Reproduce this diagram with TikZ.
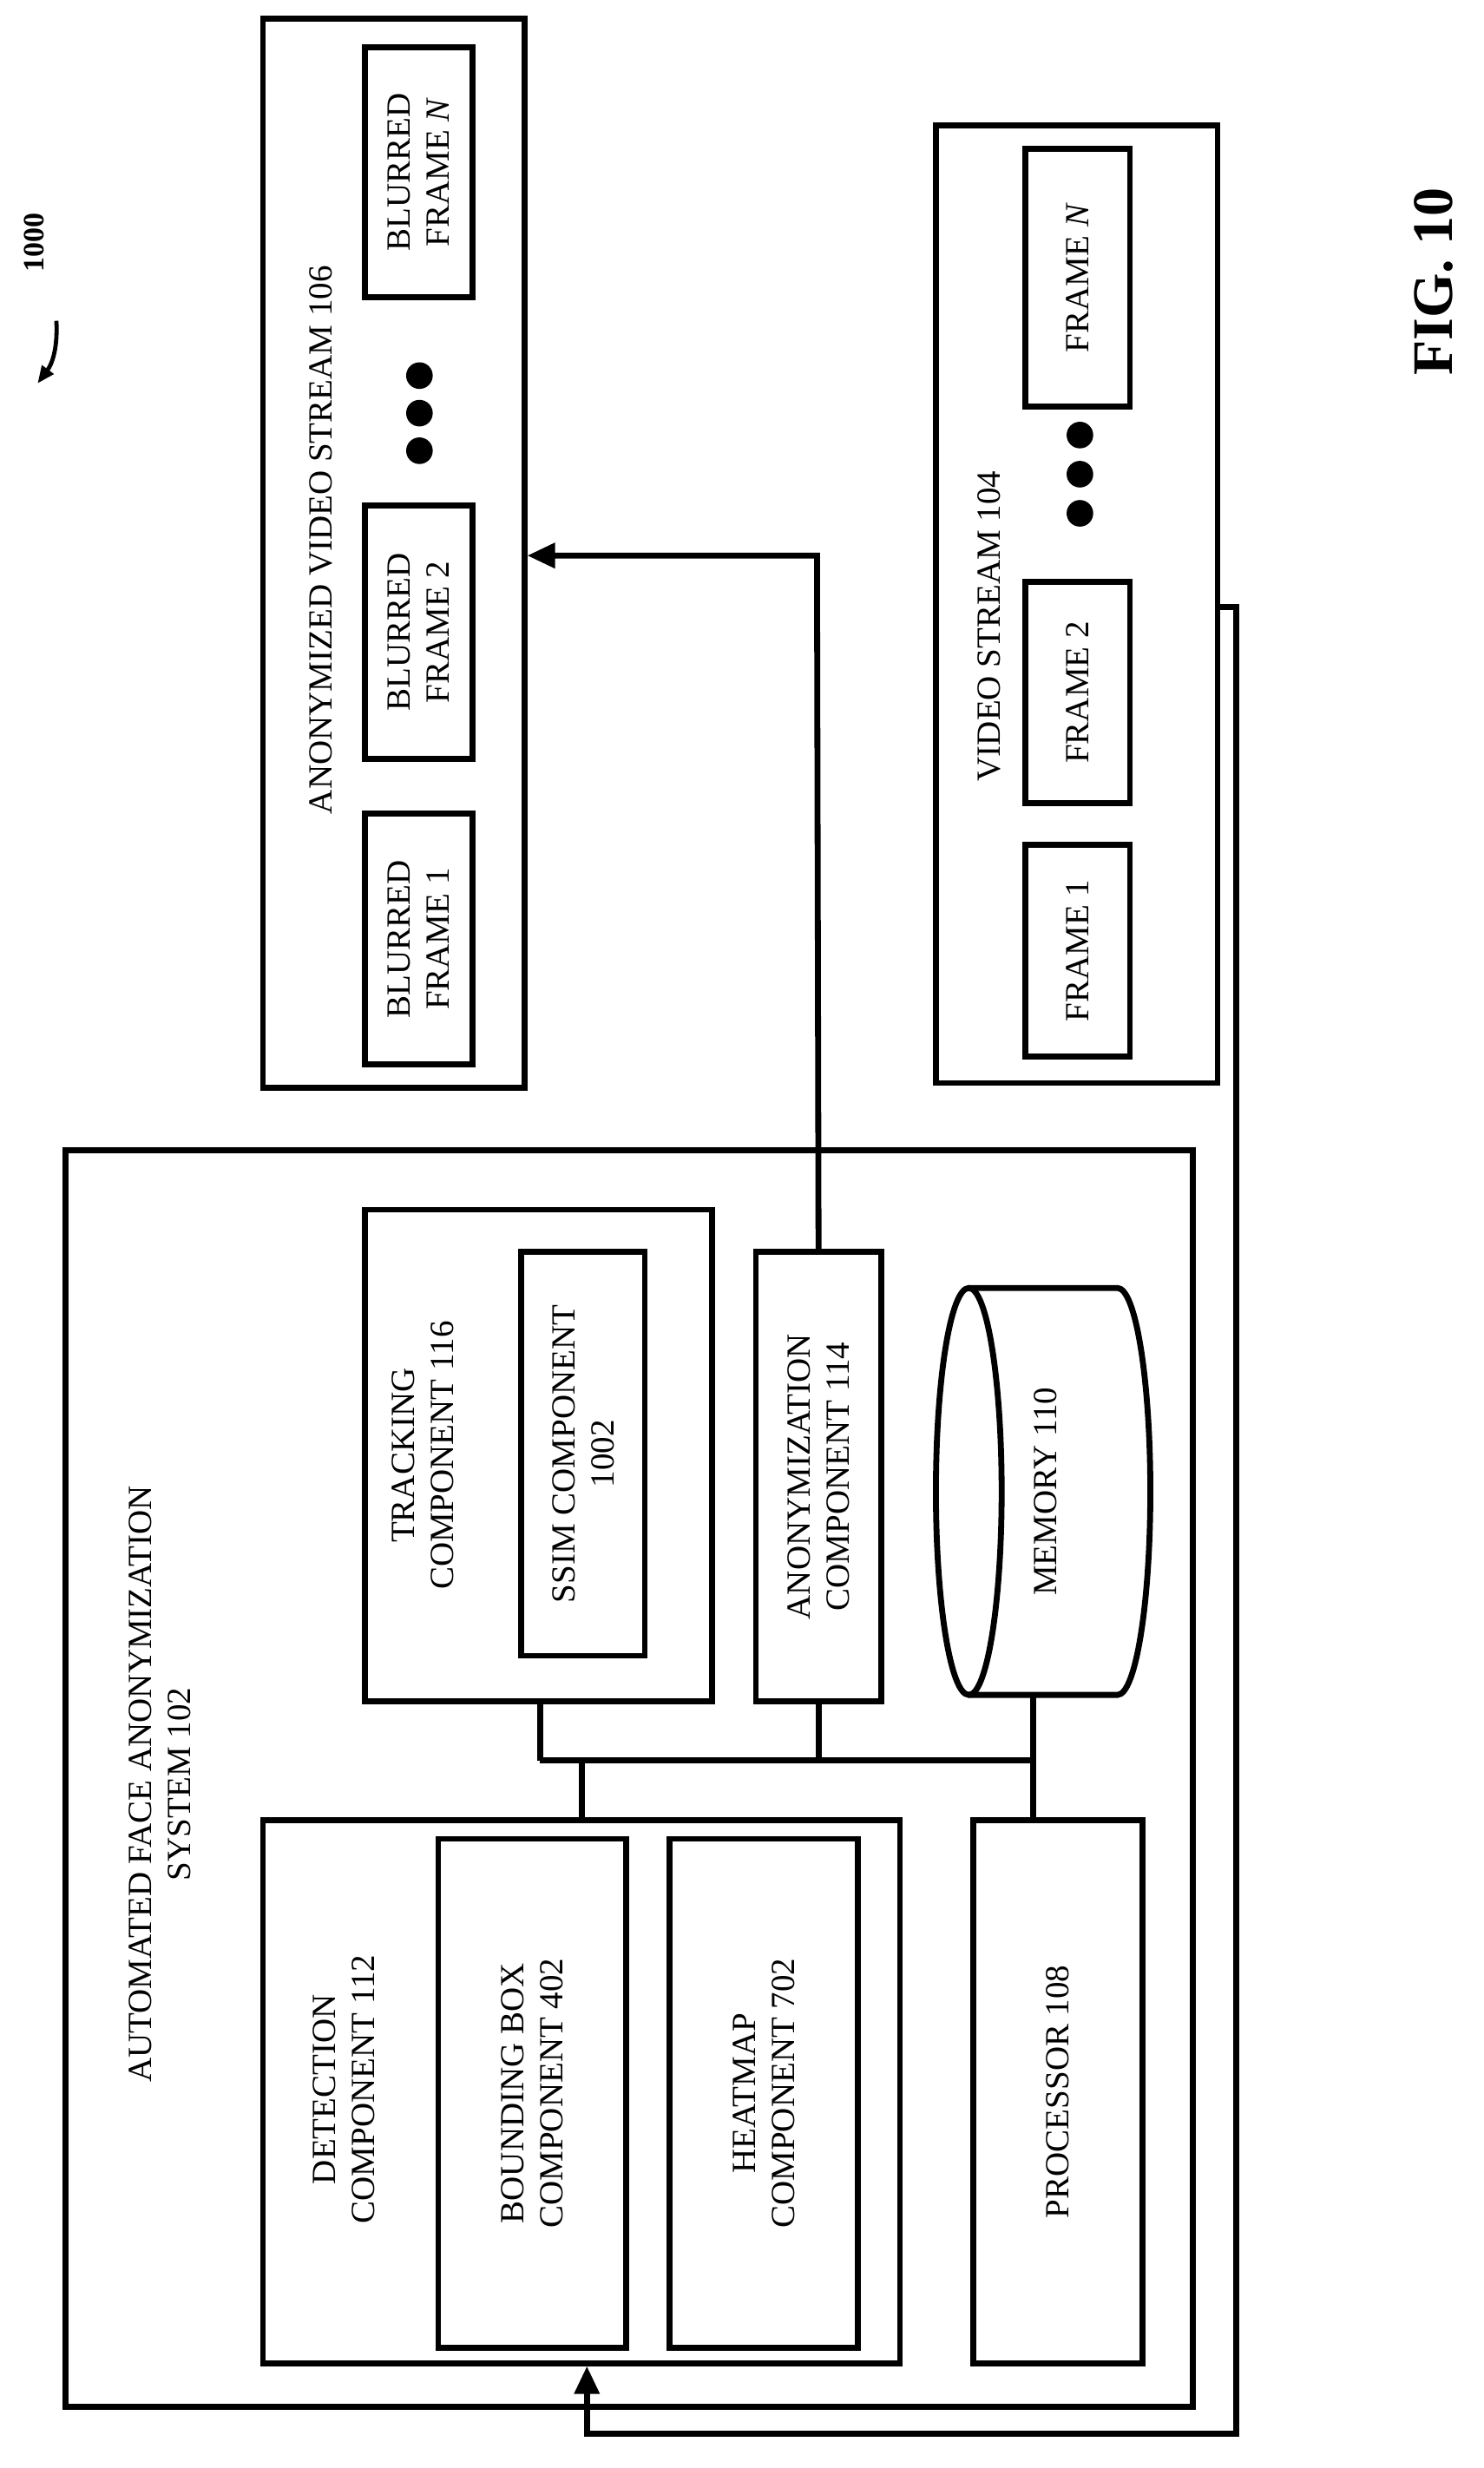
\documentclass[tikz,border=0pt]{standalone}
\usepackage{fontspec}
\setmainfont{Liberation Serif}
\usetikzlibrary{fit,arrows.meta}
\begin{document}
\begin{tikzpicture}[x=0.9015pt,y=-0.9015pt,
 box/.style={draw,line width=3.4pt,inner sep=0pt},
 lbl/.style={rotate=90,align=center,font=\fontsize{19.5}{22.5}\selectfont},
 ln/.style={line width=3.4pt},
 arr/.style={ln,-{Triangle[length=16pt,width=14pt]}}]
\useasboundingbox (0,0) rectangle (948,1577);
% system
\node[box,fit={(42,735)(762,1538)}] (sys) {};
\node[lbl] (syst) at (102,1140) {AUTOMATED FACE ANONYMIZATION\\SYSTEM 102};
\node[box,fit={(168,1163)(575,1510)}] (det) {};
\node[lbl] (dett) at (220,1335) {DETECTION\\COMPONENT 112};
\node[box,fit={(280,1175)(400,1500)}] (bb) {};
\node[lbl] at (bb) {BOUNDING BOX\\COMPONENT 402};
\node[box,fit={(428,1175)(548,1500)}] (hm) {};
\node[lbl] at (hm) {HEATMAP\\COMPONENT 702};
\node[box,fit={(622,1163)(730,1510)}] (proc) {};
\node[lbl] at (proc) {PROCESSOR 108};
\node[box,fit={(233,773)(455,1087)}] (trk) {};
\node[lbl] (trkt) at (270,930) {TRACKING\\COMPONENT 116};
\node[box,fit={(333,800)(412,1058)}] (ssim) {};
\node[lbl] at (ssim) {SSIM COMPONENT\\1002};
\node[box,fit={(483,800)(563,1087)}] (anon) {};
\node[lbl] at (anon) {ANONYMIZATION\\COMPONENT 114};
% memory cylinder
\draw[ln] (619,953) ellipse [x radius=21,y radius=130];
\draw[ln] (619,823) -- (714,823) arc[start angle=-90,end angle=90,x radius=21,y radius=130] -- (619,1083);
\node[lbl] (memt) at (668,953) {MEMORY 110};
% bus
\coordinate (b1) at (345,1125);
\coordinate (b2) at (660,1125);
\draw[ln] (b1) -- (b2);
\draw[ln] (trk.south -| b1) -- (b1);
\draw[ln] (372,1125) -- (det.north -| 372,0);
\draw[ln] (anon.south) -- (anon.south |- b1);
\draw[ln] (660,1083) -- (b2) -- (proc.north -| b2);
% anonymized stream
\node[box,fit={(168,12)(335,695)}] (as) {};
\node[lbl] (ast) at (205,345) {ANONYMIZED VIDEO STREAM 106};
\node[box,fit={(233,520)(302,680)}] (bf1) {};
\node[lbl] at (bf1) {BLURRED\\FRAME 1};
\node[box,fit={(233,323)(302,485)}] (bf2) {};
\node[lbl] at (bf2) {BLURRED\\FRAME 2};
\node[box,fit={(233,30)(302,190)}] (bfn) {};
\node[lbl] at (bfn) {BLURRED\\FRAME \textit{N}};
\foreach \yy in {240,264,288} \fill (268,\yy) circle (8.5);
% video stream
\node[box,fit={(598,80)(778,692)}] (vs) {};
\node[lbl] (vst) at (632,400) {VIDEO STREAM 104};
\node[box,fit={(655,540)(722,675)}] (f1) {};
\node[lbl] at (f1) {FRAME 1};
\node[box,fit={(655,372)(722,513)}] (f2) {};
\node[lbl] at (f2) {FRAME 2};
\node[box,fit={(655,95)(722,260)}] (fn) {};
\node[lbl] at (fn) {FRAME \textit{N}};
\foreach \yy in {278,303,328} \fill (690,\yy) circle (8.5);
% connectors
\coordinate (c1) at (522,355);
\draw[arr] (anon.north) -- (c1) -- (as.east |- c1);
\coordinate (v1) at (790,388);
\coordinate (v2) at (790,1555);
\coordinate (v3) at (375,1555);
\draw[arr] (vs.east |- v1) -- (v1) -- (v2) -- (v3) -- (det.south -| v3);
% ref
\node[rotate=90,font=\bfseries\fontsize{17}{20}\selectfont] (ref) at (22,155) {1000};
\coordinate (r1) at (36,205);
\coordinate (r2) at (24,245);
\draw[line width=2.4pt,-{Triangle[length=10pt,width=8pt]}] (r1) to[bend left=20] (r2);
\node[rotate=90,font=\bfseries\fontsize{33}{36}\selectfont] (fig) at (916,180) {FIG. 10};
\end{tikzpicture}
\end{document}
